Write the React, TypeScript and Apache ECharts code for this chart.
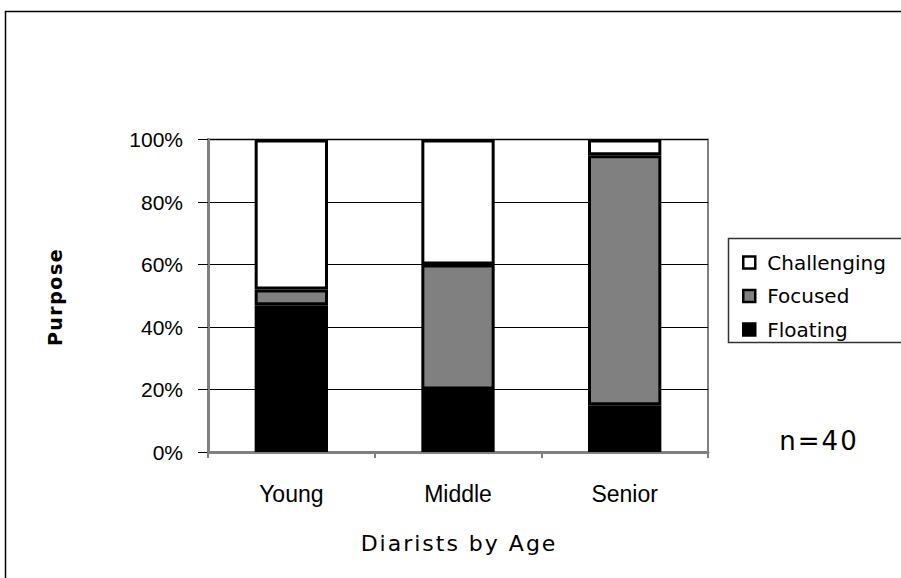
import React, { useEffect, useRef } from "react";
import * as echarts from "echarts";

const categories = ["Young", "Middle", "Senior"];
const floating = [47, 20, 15];
const focused = [5, 40, 80];
const challenging = [48, 40, 5];
const yTicks = [0, 20, 40, 60, 80, 100];
const xTitle = "Diarists by Age";
const yTitle = "Purpose";
const note = "n=40";

export default function App() {
  const ref = useRef<HTMLDivElement>(null);
  useEffect(() => {
    if (!ref.current) return;
    const chart = echarts.init(ref.current, null, { renderer: "svg" });
    const barStyle = (color: string) => ({
      color,
      borderColor: "#000",
      borderWidth: 3,
    });
    chart.setOption({
      animation: false,
      backgroundColor: "#fff",
      grid: {
        left: 208,
        right: 193,
        top: 139.5,
        bottom: 126,
        show: true,
        borderColor: "#808080",
        borderWidth: 2,
      },
      legend: {
        orient: "vertical",
        left: 737,
        top: 247,
        icon: "rect",
        itemWidth: 12,
        itemHeight: 12,
        itemGap: 12.5,
        data: ["Challenging", "Focused", "Floating"],
        itemStyle: { borderColor: "#000", borderWidth: 2.5 },
        textStyle: {
          fontFamily: "DejaVu Sans",
          fontSize: 20,
          color: "#000",
          lineHeight: 21,
          padding: [0, 0, 0, 7],
        },
        selectedMode: false,
      },
      xAxis: {
        type: "category",
        data: categories,
        axisLine: { lineStyle: { color: "#808080", width: 3 } },
        axisTick: { show: true, length: 6, lineStyle: { color: "#808080", width: 2 } },
        axisLabel: {
          margin: 30,
          fontFamily: "Liberation Sans",
          fontSize: 23,
          color: "#000",
        },
      },
      yAxis: {
        type: "value",
        min: yTicks[0],
        max: yTicks[yTicks.length - 1],
        interval: 20,
        axisLine: { show: true, lineStyle: { color: "#808080", width: 3 } },
        axisTick: { show: true, length: 10, lineStyle: { color: "#000", width: 1 } },
        splitLine: { show: true, lineStyle: { color: "#000", width: 1 } },
        axisLabel: {
          margin: 25,
          formatter: "{value}%",
          fontFamily: "Liberation Sans",
          fontSize: 21,
          color: "#000",
        },
      },
      series: [
        {
          name: "Floating",
          type: "bar",
          stack: "s",
          barWidth: "44%",
          data: floating,
          itemStyle: barStyle("#000"),
        },
        {
          name: "Focused",
          type: "bar",
          stack: "s",
          barWidth: "44%",
          data: focused,
          itemStyle: barStyle("#808080"),
        },
        {
          name: "Challenging",
          type: "bar",
          stack: "s",
          barWidth: "44%",
          data: challenging,
          itemStyle: barStyle("#fff"),
        },
      ],
      graphic: [
        {
          type: "rect",
          shape: { x: 5.5, y: 11.5, width: 1000, height: 1000 },
          style: { fill: "none", stroke: "#000", lineWidth: 1.5 },
          silent: true,
        },
        {
          type: "rect",
          shape: { x: 728.5, y: 238.5, width: 300, height: 104 },
          style: { fill: "none", stroke: "#333", lineWidth: 1.5 },
          silent: true,
        },
        {
          type: "text",
          x: 459,
          y: 543,
          style: {
            text: xTitle,
            fontFamily: "DejaVu Sans",
            fontSize: 22,
            fill: "#000",
            align: "center",
            verticalAlign: "middle",
          },
        },
        {
          type: "text",
          x: 55,
          y: 297,
          rotation: Math.PI / 2,
          style: {
            text: yTitle,
            fontFamily: "DejaVu Sans",
            fontWeight: "bold",
            fontSize: 19,
            fill: "#000",
            align: "center",
            verticalAlign: "middle",
          },
        },
        {
          type: "text",
          x: 819,
          y: 441,
          style: {
            text: note,
            fontFamily: "DejaVu Sans",
            fontSize: 26,
            fill: "#000",
            align: "center",
            verticalAlign: "middle",
          },
        },
      ],
    });
    const spacing: Record<string, string> = {
      [xTitle]: "2px",
      [yTitle]: "1.5px",
      [note]: "2px",
    };
    ref.current.querySelectorAll("text").forEach((t) => {
      const s = spacing[t.textContent || ""];
      if (s) t.setAttribute("letter-spacing", s);
    });
    return () => chart.dispose();
  }, []);
  return (
    <div
      ref={ref}
      style={{ position: "fixed", left: 0, top: 0, width: 901, height: 578 }}
    />
  );
}
